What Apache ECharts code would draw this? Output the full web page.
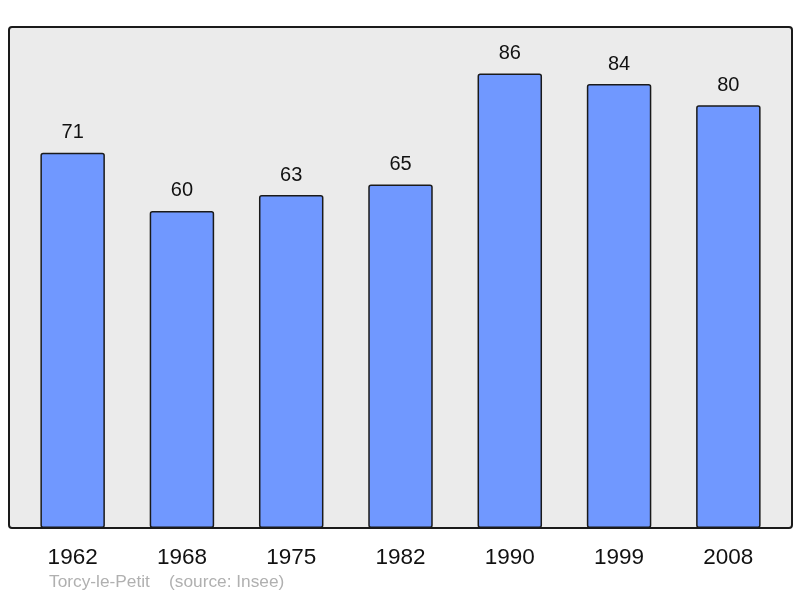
<!DOCTYPE html>
<html>
<head>
<meta charset="utf-8">
<script src="https://cdn.jsdelivr.net/npm/echarts@6/dist/echarts.min.js"></script>
<style>html,body{margin:0;padding:0;background:#fff;}#c{width:800px;height:598px;}</style>
</head>
<body>
<div id="c"></div>
<script>
const categories = ['1962', '1968', '1975', '1982', '1990', '1999', '2008'];
const population = [71, 60, 63, 65, 86, 84, 80];
const sourceText = 'Torcy-le-Petit    (source: Insee)';

const chart = echarts.init(document.getElementById('c'), null, {renderer: 'canvas'});
chart.setOption({
  animation: false,
  backgroundColor: '#ffffff',
  textStyle: {fontFamily: 'Liberation Sans, Arial, sans-serif'},
  graphic: [
    {type: 'rect', z: 0, shape: {x: 9, y: 27, width: 783, height: 501, r: 3},
     style: {fill: '#ebebeb', stroke: '#1a1a1a', lineWidth: 2}},
    {type: 'text', z: 5, left: 49, top: 574,
     style: {text: sourceText, fill: '#b0b0b0', fontSize: 17.3, fontFamily: 'Liberation Sans, Arial, sans-serif'}}
  ],
  grid: {left: 18, right: 17, top: 27, bottom: 70, containLabel: false},
  xAxis: {
    type: 'category', data: categories,
    axisLine: {show: false}, axisTick: {show: false},
    axisLabel: {fontSize: 22.5, color: '#111', margin: 18, fontFamily: 'Liberation Sans, Arial, sans-serif'}
  },
  yAxis: {
    type: 'value', min: 0, max: 94.8, show: false, splitLine: {show: false}
  },
  series: [{
    type: 'bar', data: population, z: 3,
    barCategoryGap: '41%',
    itemStyle: {color: '#7098ff', borderColor: '#1a1a1a', borderWidth: 1.5, borderRadius: 2},
    label: {show: true, position: 'top', distance: 10, fontSize: 20, color: '#111', fontFamily: 'Liberation Sans, Arial, sans-serif'}
  }]
});
</script>
</body>
</html>
